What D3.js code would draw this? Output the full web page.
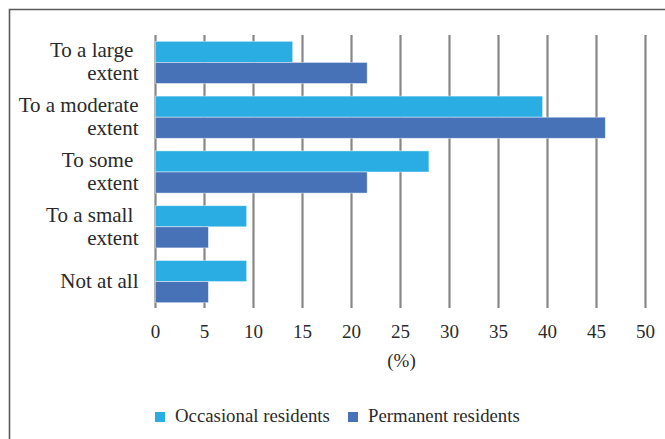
<!DOCTYPE html>
<html>
<head>
<meta charset="utf-8">
<script src="https://cdn.jsdelivr.net/npm/d3@7"></script>
<style>
  html, body { margin: 0; padding: 0; background: #fff; }
  svg { display: block; }
  text { font-family: "Liberation Serif", "DejaVu Serif", serif; fill: #2a2a2a; }
</style>
</head>
<body>
<svg id="chart" width="665" height="439"></svg>
<script>
const categories = [["To a large ", "extent"], ["To a moderate", "extent"], ["To some ", "extent"], ["To a small ", "extent"], ["Not at all"]];
const categoryKeys = ["large", "moderate", "some", "small", "none"];
const seriesNames = ["Occasional residents", "Permanent residents"];
const occasional = [14.0, 39.5, 27.9, 9.3, 9.3];
const permanent = [21.6, 45.9, 21.6, 5.4, 5.4];
const xTicks = [0, 5, 10, 15, 20, 25, 30, 35, 40, 45, 50];
const colors = ["#29ADE3", "#4872B8"];

const svg = d3.select("#chart");

// frame
svg.append("path")
  .attr("d", "M9.5,439 V9.5 H665")
  .attr("fill", "none")
  .attr("stroke", "#5a5a5a")
  .attr("stroke-width", 1.6);

const x = d3.scaleLinear().domain([0, 50]).range([155.5, 645.5]);
const y = d3.scaleBand().domain(categoryKeys).range([35, 309]).paddingInner(0.23).paddingOuter(0.115);
const ySub = d3.scaleBand().domain(seriesNames).range([0, y.bandwidth()]);

// gridlines
svg.append("g").selectAll("line").data(xTicks).join("line")
  .attr("x1", d => x(d)).attr("x2", d => x(d))
  .attr("y1", 35).attr("y2", 308)
  .attr("stroke", "#878787").attr("stroke-width", 2.2);

// bars
const seriesData = [occasional, permanent];
seriesNames.forEach((name, si) => {
  svg.append("g").selectAll("rect").data(categoryKeys).join("rect")
    .attr("x", x(0))
    .attr("y", k => y(k) + ySub(name))
    .attr("width", (k, i) => x(seriesData[si][i]) - x(0))
    .attr("height", ySub.bandwidth())
    .attr("fill", colors[si])
    .attr("stroke", "rgba(255,255,255,0.55)")
    .attr("stroke-width", 0.8);
});

// x tick labels
svg.append("g").selectAll("text").data(xTicks).join("text")
  .attr("x", d => x(d)).attr("y", 338)
  .attr("text-anchor", "middle")
  .attr("font-size", 19)
  .text(d => d);

// axis title
svg.append("text")
  .attr("x", (x(0) + x(50)) / 2 + 1).attr("y", 367)
  .attr("text-anchor", "middle")
  .attr("font-size", 19)
  .text("(%)");

// y labels
const lineH = 23;
categoryKeys.forEach((k, i) => {
  const lines = categories[i];
  const cy = y(k) + y.bandwidth() / 2;
  const t = svg.append("text")
    .attr("text-anchor", "end")
    .attr("xml:space", "preserve")
    .style("white-space", "pre")
    .attr("font-size", 21);
  lines.forEach((ln, j) => {
    t.append("tspan")
      .attr("x", 138.5)
      .attr("y", cy + (j - (lines.length - 1) / 2) * lineH + 6.5)
      .text(ln);
  });
});

// legend
const legendItems = [
  { name: seriesNames[0], color: colors[0], x: 155 },
  { name: seriesNames[1], color: colors[1], x: 348 }
];
const lg = svg.append("g");
legendItems.forEach(it => {
  lg.append("rect").attr("x", it.x).attr("y", 412).attr("width", 10).attr("height", 10).attr("fill", it.color);
  lg.append("text").attr("x", it.x + 20).attr("y", 422).attr("font-size", 18.8).text(it.name);
});
</script>
</body>
</html>
